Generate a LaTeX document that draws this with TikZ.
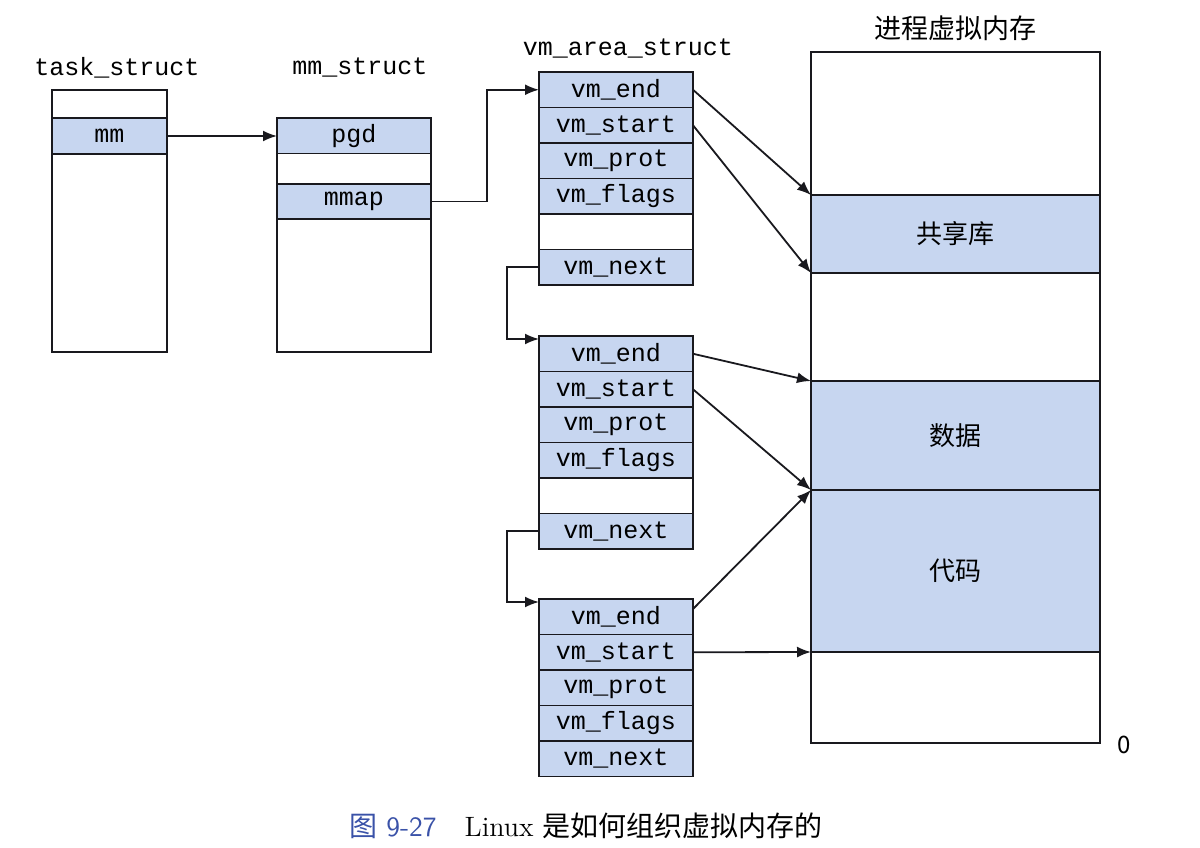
\documentclass[tikz,border=0pt]{standalone}
\usepackage{fontspec}
\setmonofont{Liberation Mono}
\newfontfamily\cjk{Noto Sans CJK SC}
\usetikzlibrary{arrows.meta, positioning}
\definecolor{fieldblue}{RGB}{199, 214, 240}
\definecolor{captionblue}{RGB}{58, 82, 168}
\definecolor{linegray}{RGB}{25, 25, 30}

\begin{document}
\begin{tikzpicture}[x=0.5pt, y=-0.5pt, >={Latex[length=7pt,width=5.5pt]},
  every node/.style={inner sep=0pt, outer sep=0pt},
  frame/.style={draw=linegray, line width=0.9pt, fill=white},
  field/.style={draw=linegray, line width=0.9pt, fill=fieldblue, minimum width=77pt, minimum height=17.75pt, font=\ttfamily\fontsize{12.5}{15}\selectfont},
  region/.style={draw=linegray, line width=0.9pt, fill=fieldblue, minimum width=144.5pt, font=\cjk\fontsize{13}{15}\selectfont},
  title/.style={font=\ttfamily\fontsize{12.5}{15}\selectfont},
  link/.style={->, line width=0.9pt, linegray}]

\useasboundingbox (0,0) rectangle (1200,847);

% task_struct
\node[title] (tasklbl) at (117,68) {task\_struct};
\node[frame, minimum width=57.5pt, minimum height=131pt] (task) at (109.5,221) {};
\node[field, minimum width=57.5pt, minimum height=18pt] (mm) at (109.5,136) {mm};

% mm_struct
\node[title] (mmlbl) at (360,68) {mm\_struct};
\node[frame, minimum width=77pt, minimum height=117pt] (mmstr) at (354,235) {};
\node[field, minimum height=17.5pt] (pgd) at (354,136) {pgd};
\node[field, minimum height=17.5pt] (mmap) at (354,201.5) {mmap};

% vm_area_struct chain
\node[title] (vmalbl) at (628,49) {vm\_area\_struct};
\node[frame, minimum width=77pt, minimum height=106.5pt] (vma1) at (616,178.5) {};
\node[frame, minimum width=77pt, minimum height=106.5pt] (vma2) at (616,442.5) {};
\foreach \f/\n [count=\i] in {vm\_end/end, vm\_start/start, vm\_prot/prot, vm\_flags/flags} {
  \node[field] (\n1) at (616,{72+35.5*(\i-0.5)}) {\f};
  \node[field] (\n2) at (616,{336+35.5*(\i-0.5)}) {\f};
  \node[field] (\n3) at (616,{599+35.5*(\i-0.5)}) {\f};
}
\node[field] (next1) at (616,267.25) {vm\_next};
\node[field] (next2) at (616,531.25) {vm\_next};
\node[field] (next3) at (616,758.75) {vm\_next};

% Process virtual memory
\node[font=\cjk\fontsize{13.5}{16}\selectfont] (vmemlbl) at (955,28) {进程虚拟内存};
\node[frame, minimum width=144.5pt, minimum height=345.5pt] (vmem) at (955.5,397.5) {};
\node[region, minimum height=39pt] (shlib) at (955.5,234) {共享库};
\node[region, minimum height=54.5pt] (data) at (955.5,435.5) {数据};
\node[region, minimum height=81pt] (code) at (955.5,571) {代码};
\node[font=\cjk\fontsize{12}{14}\selectfont] (zero) at (1124,745) {0};

% Pointers between structs
\draw[link] (mm.east) -- (pgd.west);
\draw[link] (mmap.east) -- ++(56,0) |- (end1.west);
\draw[link] (next1.west) -- ++(-32,0) |- ([yshift=-1.5pt]end2.north west);
\draw[link] (next2.west) -- ++(-32,0) |- ([yshift=-1.5pt]end3.north west);

% Areas into memory
\draw[link] (end1.east) -- (shlib.north west);
\draw[link] (start1.east) -- (shlib.south west);
\draw[link] (end2.east) -- (data.north west);
\draw[link] (start2.east) -- (data.south west);
\draw[link] ([yshift=-5pt]end3.north east) -- (code.north west);
\draw[link] (start3.east) -- (code.south west);

% Caption
\node[font=\fontsize{14}{16}\selectfont] (caption) at (586,826) {\textcolor{captionblue}{{\cjk 图} \sffamily 9-27}\quad Linux {\cjk 是如何组织虚拟内存的}};

\end{tikzpicture}
\end{document}
